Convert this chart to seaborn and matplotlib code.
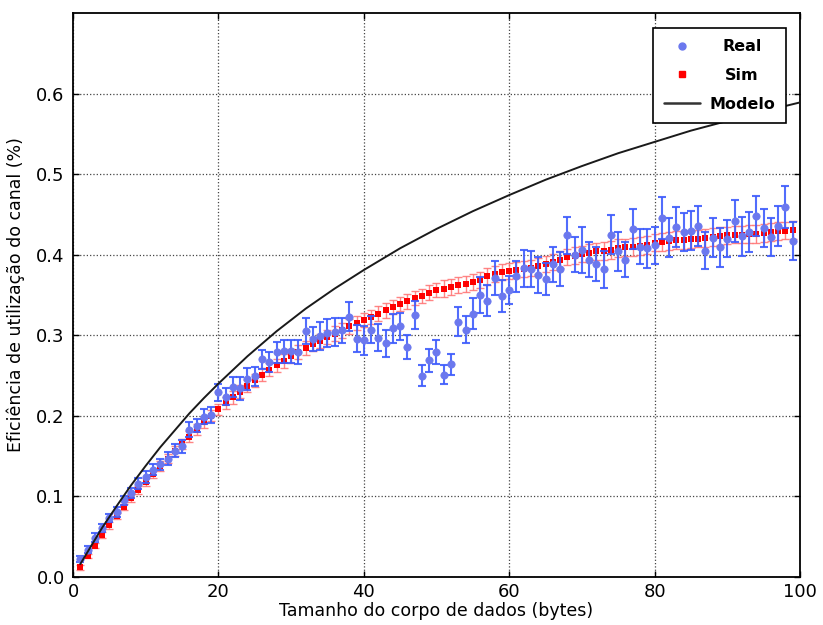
import numpy as np
import pandas as pd
import matplotlib
matplotlib.use("Agg")
import matplotlib.pyplot as plt
import seaborn as sns
from matplotlib.lines import Line2D

# ---------------- data ----------------
x_vals = list(range(1, 100))

real_vals = [0.022, 0.034, 0.049, 0.061, 0.073, 0.081, 0.095, 0.104, 0.116, 0.124,
             0.133, 0.140, 0.147, 0.157, 0.162, 0.183, 0.188, 0.199, 0.201, 0.229,
             0.224, 0.236, 0.234, 0.246, 0.249, 0.270, 0.267, 0.279, 0.280, 0.280,
             0.279, 0.305, 0.295, 0.299, 0.303, 0.304, 0.306, 0.323, 0.296, 0.294,
             0.307, 0.297, 0.290, 0.309, 0.311, 0.285, 0.325, 0.250, 0.269, 0.279,
             0.251, 0.264, 0.317, 0.307, 0.327, 0.350, 0.343, 0.371, 0.349, 0.356,
             0.373, 0.383, 0.382, 0.375, 0.370, 0.388, 0.382, 0.424, 0.400, 0.406,
             0.394, 0.388, 0.382, 0.425, 0.404, 0.394, 0.432, 0.410, 0.408, 0.412,
             0.446, 0.421, 0.434, 0.428, 0.430, 0.436, 0.405, 0.421, 0.409, 0.420,
             0.442, 0.423, 0.428, 0.448, 0.433, 0.422, 0.436, 0.459, 0.417]

real_err = [0.004, 0.004, 0.005, 0.005, 0.005, 0.006, 0.006, 0.006, 0.007, 0.007,
            0.007, 0.007, 0.008, 0.008, 0.008, 0.009, 0.008, 0.009, 0.010, 0.010,
            0.010, 0.012, 0.014, 0.014, 0.012, 0.012, 0.012, 0.013, 0.014, 0.014,
            0.015, 0.016, 0.015, 0.017, 0.017, 0.017, 0.016, 0.018, 0.017, 0.018,
            0.017, 0.017, 0.017, 0.018, 0.017, 0.015, 0.017, 0.013, 0.014, 0.015,
            0.012, 0.013, 0.018, 0.017, 0.019, 0.022, 0.019, 0.021, 0.020, 0.017,
            0.019, 0.023, 0.022, 0.022, 0.020, 0.022, 0.021, 0.023, 0.022, 0.029,
            0.022, 0.021, 0.023, 0.024, 0.024, 0.022, 0.025, 0.022, 0.024, 0.023,
            0.026, 0.024, 0.025, 0.024, 0.024, 0.025, 0.023, 0.024, 0.024, 0.023,
            0.026, 0.024, 0.025, 0.025, 0.024, 0.024, 0.025, 0.026, 0.023]

sim_vals = [0.012, 0.026, 0.039, 0.052, 0.064, 0.076, 0.087, 0.098, 0.108, 0.118,
            0.128, 0.138, 0.147, 0.156, 0.165, 0.174, 0.183, 0.192, 0.200, 0.208,
            0.216, 0.223, 0.230, 0.237, 0.244, 0.251, 0.257, 0.263, 0.268, 0.274,
            0.279, 0.284, 0.289, 0.293, 0.298, 0.302, 0.306, 0.311, 0.315, 0.319,
            0.323, 0.327, 0.331, 0.335, 0.339, 0.342, 0.346, 0.349, 0.353, 0.356,
            0.358, 0.360, 0.362, 0.364, 0.366, 0.369, 0.373, 0.376, 0.378, 0.380,
            0.381, 0.382, 0.384, 0.386, 0.388, 0.391, 0.394, 0.397, 0.399, 0.401,
            0.402, 0.404, 0.405, 0.406, 0.408, 0.409, 0.410, 0.411, 0.412, 0.415,
            0.416, 0.417, 0.418, 0.418, 0.419, 0.420, 0.421, 0.422, 0.423, 0.424,
            0.425, 0.425, 0.426, 0.426, 0.427, 0.428, 0.429, 0.430, 0.431]

sim_err = [0.003, 0.003, 0.003, 0.004, 0.004, 0.004, 0.004, 0.005, 0.005, 0.005,
           0.005, 0.006, 0.006, 0.006, 0.006, 0.007, 0.007, 0.007, 0.007, 0.007,
           0.008, 0.008, 0.008, 0.008, 0.008, 0.008, 0.008, 0.008, 0.009, 0.009,
           0.009, 0.009, 0.009, 0.009, 0.009, 0.009, 0.009, 0.009, 0.009, 0.009,
           0.009, 0.009, 0.009, 0.009, 0.009, 0.009, 0.009, 0.009, 0.009, 0.009,
           0.010, 0.010, 0.010, 0.010, 0.010, 0.010, 0.010, 0.010, 0.010, 0.010,
           0.010, 0.010, 0.010, 0.010, 0.010, 0.010, 0.010, 0.010, 0.010, 0.010,
           0.011, 0.011, 0.011, 0.011, 0.011, 0.011, 0.011, 0.011, 0.011, 0.011,
           0.011, 0.011, 0.011, 0.011, 0.011, 0.011, 0.011, 0.011, 0.011, 0.011,
           0.011, 0.011, 0.011, 0.011, 0.011, 0.011, 0.011, 0.011, 0.011]

model_x = [1, 2, 4, 6, 8, 10, 12, 14, 16, 18, 20, 24, 28, 32, 36, 40, 45, 50,
           55, 60, 65, 70, 75, 80, 85, 90, 95, 100]
model_vals = [0.016, 0.031, 0.061, 0.088, 0.114, 0.138, 0.161, 0.182, 0.203, 0.222,
              0.240, 0.274, 0.305, 0.333, 0.358, 0.381, 0.408, 0.432, 0.454, 0.474,
              0.493, 0.510, 0.526, 0.540, 0.554, 0.566, 0.578, 0.589]

x_ticks = [0, 20, 40, 60, 80, 100]
y_ticks = [0.0, 0.1, 0.2, 0.3, 0.4, 0.5, 0.6]
series_labels = ["Real", "Sim", "Modelo"]

# ---------------- style ----------------
sns.set_style("white")
plt.rcParams['font.family'] = ['DejaVu Sans']
plt.rcParams['axes.linewidth'] = 1.3
plt.rcParams['text.color'] = 'black'
plt.rcParams['axes.labelcolor'] = 'black'
plt.rcParams['xtick.color'] = 'black'
plt.rcParams['ytick.color'] = 'black'

BLUE_BAR = "#3f5dfc"
BLUE_MK = "#6b78ee"
RED_MK = "#ff0000"
RED_BAR = "#ff7070"

fig = plt.figure(figsize=(8.23, 6.25), dpi=100)
ax = fig.add_axes([0.0887, 0.0768, 0.8833, 0.9024])

sim_df = pd.DataFrame({"x": x_vals, "y": sim_vals})
real_df = pd.DataFrame({"x": x_vals, "y": real_vals})
model_df = pd.DataFrame({"x": model_x, "y": model_vals})

# Sim: light red error bars + red squares
ax.errorbar(sim_df["x"], sim_df["y"], yerr=sim_err, fmt="none",
            ecolor=RED_BAR, elinewidth=1.0, capsize=3.2, capthick=1.0,
            alpha=0.85, zorder=2)
sns.scatterplot(data=sim_df, x="x", y="y", ax=ax, marker="s", s=24,
                color=RED_MK, edgecolor=RED_MK, linewidth=0, zorder=3,
                legend=False)

# Real: blue error bars + blue circles
ax.errorbar(real_df["x"], real_df["y"], yerr=real_err, fmt="none",
            ecolor=BLUE_BAR, elinewidth=1.5, capsize=3.0, capthick=1.5,
            alpha=0.9, zorder=4)
sns.scatterplot(data=real_df, x="x", y="y", ax=ax, marker="o", s=28,
                color=BLUE_MK, edgecolor=BLUE_MK, linewidth=0.5, zorder=5,
                legend=False)

# Modelo
sns.lineplot(data=model_df, x="x", y="y", ax=ax, color="#1a1a1a",
             linewidth=1.4, zorder=6)

# ---------------- axes ----------------
ax.set_xlim(0, 100)
ax.set_ylim(0, 0.7)
ax.set_xticks(x_ticks)
ax.set_yticks(y_ticks)
ax.set_xticklabels([str(t) for t in x_ticks], fontsize=13)
ax.set_yticklabels([f"{t:.1f}" for t in y_ticks], fontsize=13)
ax.tick_params(direction="in", length=4, width=1, top=True, right=True,
               bottom=True, left=True, colors="black", labelcolor="black")
ax.tick_params(axis="x", pad=4)
ax.tick_params(axis="y", pad=6)
ax.grid(True, linestyle=":", color="#444444", linewidth=0.9)
for sp in ax.spines.values():
    sp.set_color("black")
    sp.set_visible(True)

ax.set_xlabel("Tamanho do corpo de dados (bytes)", fontsize=12.5, labelpad=1,
              color="black")
ax.set_ylabel("Eficiência de utilização do canal (%)", fontsize=12.5, labelpad=8,
              color="black")

handles = [
    Line2D([], [], linestyle="none", marker="o", markersize=5,
           markerfacecolor=BLUE_MK, markeredgecolor=BLUE_MK),
    Line2D([], [], linestyle="none", marker="s", markersize=4.5,
           markerfacecolor=RED_MK, markeredgecolor=RED_MK),
    Line2D([], [], color="#333333", linewidth=1.8),
]
leg = ax.legend(handles, series_labels, loc="upper right",
                bbox_to_anchor=(0.981, 0.973), borderaxespad=0,
                prop={"weight": "bold", "size": 11.5}, frameon=True,
                fancybox=False, framealpha=1, edgecolor="black",
                borderpad=0.7, labelspacing=0.85, handlelength=2.2,
                handletextpad=0.6, numpoints=1, labelcolor="black")
leg.get_frame().set_linewidth(1.2)
leg.set_zorder(10)

# center legend labels like the reference
fig.canvas.draw()
renderer = fig.canvas.get_renderer()
texts = leg.get_texts()
widths = [t.get_window_extent(renderer).width for t in texts]
mw = max(widths)
for t, w in zip(texts, widths):
    t.set_x((mw - w) / 2.0)

fig.savefig("out.png", dpi=100)
